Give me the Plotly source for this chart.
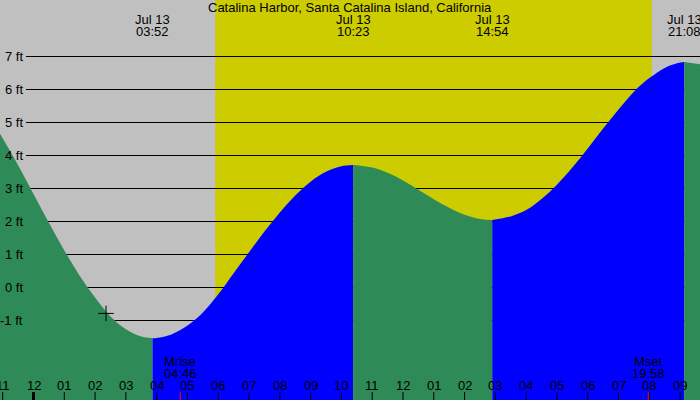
import plotly.graph_objects as go

# ---------------- data (hours after midnight, Jul 13; heights in ft) ----------------
title_text = "Catalina Harbor, Santa Catalina Island, California"

tide_hours = [-1.1, -0.5, 0, 0.5, 1, 1.5, 2, 2.5, 3, 3.5, 3.867,
              4, 4.5, 5, 5.5, 6, 6.5, 7, 7.5, 8, 8.5, 9, 9.5, 10, 10.383,
              11, 11.5, 12, 12.5, 13, 13.5, 14, 14.5, 14.9,
              15.5, 16, 16.5, 17, 17.5, 18, 18.5, 19, 19.5, 20, 20.5, 21, 21.133,
              21.7]
tide_ft = [4.66, 3.69, 2.82, 1.95, 1.11, 0.34, -0.32, -0.89, -1.28, -1.50, -1.55,
           -1.545, -1.43, -1.17, -0.77, -0.22, 0.42, 1.05, 1.68, 2.26, 2.77, 3.19, 3.49, 3.66, 3.70,
           3.62, 3.46, 3.23, 2.95, 2.66, 2.40, 2.19, 2.06, 2.03,
           2.14, 2.33, 2.67, 3.10, 3.62, 4.20, 4.80, 5.38, 5.92, 6.33, 6.64, 6.80, 6.82,
           6.74]

extreme_hours = [3.867, 10.383, 14.9, 21.133]
extreme_dates = ["Jul 13", "Jul 13", "Jul 13", "Jul 13"]
extreme_times = ["03:52", "10:23", "14:54", "21:08"]

sunrise_hour = 5.9
sunset_hour = 20.08

moon_hours = [4.767, 19.967]
moon_names = ["Mrise", "Mset"]
moon_times = ["04:46", "19:58"]

now_hour = [2.355]
now_ft = [-0.80]

level_ft = [-1, 0, 1, 2, 3, 4, 5, 6, 7]
level_labels = ["-1 ft", "0 ft", "1 ft", "2 ft", "3 ft", "4 ft", "5 ft", "6 ft", "7 ft"]

tick_hours = list(range(-1, 22))
tick_labels = ["11", "12", "01", "02", "03", "04", "05", "06", "07", "08", "09", "10",
               "11", "12", "01", "02", "03", "04", "05", "06", "07", "08", "09"]

# ---------------- style ----------------
NIGHT = "#c0c0c0"
DAY = "#cccc00"
FALL = "#2e8b57"
RISE = "#0000ff"
FONT = "Liberation Sans"
X_RANGE = [-1.088, 21.646]
Y_RANGE = [-3.424, 8.697]
W, H = 700, 400

fig = go.Figure()

# split the tide curve into rising / falling segments at the extremes
bounds = [tide_hours[0]] + extreme_hours + [tide_hours[-1]]
for i in range(len(bounds) - 1):
    a, b = bounds[i], bounds[i + 1]
    xs = [t for t in tide_hours if a <= t <= b]
    ys = [h for t, h in zip(tide_hours, tide_ft) if a <= t <= b]
    rising = ys[-1] > ys[0]
    fig.add_trace(go.Scatter(x=[xs[0], xs[-1]], y=[Y_RANGE[0] - 1] * 2, mode="lines",
                             line=dict(width=0), hoverinfo="skip", showlegend=False))
    fig.add_trace(go.Scatter(x=xs, y=ys, mode="lines", fill="tonexty",
                             fillcolor=RISE if rising else FALL,
                             line=dict(width=0, shape="spline", smoothing=1),
                             hoverinfo="skip", showlegend=False))

fig.add_trace(go.Scatter(x=now_hour, y=now_ft, mode="markers",
                         marker=dict(symbol="cross-thin", size=11,
                                     line=dict(width=1, color="black")),
                         hoverinfo="skip", showlegend=False))

shapes = [dict(type="rect", xref="x", yref="paper", x0=sunrise_hour, x1=sunset_hour,
               y0=0, y1=1, fillcolor=DAY, line=dict(width=0), layer="below")]
for v in level_ft:
    # half-pixel offset keeps the 1px rule crisp
    shapes.append(dict(type="line", xref="paper", yref="y", ysizemode="pixel", yanchor=v,
                       x0=26 / W, x1=1, y0=-0.5, y1=-0.5,
                       line=dict(color="black", width=1), layer="below"))
for t in tick_hours:
    shapes.append(dict(type="line", xref="x", yref="paper", x0=t, x1=t, y0=0, y1=8 / H,
                       line=dict(color="black", width=3 if t % 24 == 0 else 1)))
for t in moon_hours:
    shapes.append(dict(type="line", xref="x", yref="paper", x0=t, x1=t, y0=0, y1=8 / H,
                       line=dict(color="red", width=1)))

ann = []
fnt = dict(family=FONT, size=13, color="black")


def py(pix):
    return 1 - pix / H


ann.append(dict(text=title_text, xref="paper", yref="paper", x=0.5, y=py(7.5),
                showarrow=False, font=fnt, xanchor="center", yanchor="middle"))
for t, d, s in zip(extreme_hours, extreme_dates, extreme_times):
    ann.append(dict(text=d, xref="x", yref="paper", x=t, y=py(19.5), showarrow=False,
                    font=fnt, xanchor="center", yanchor="middle"))
    ann.append(dict(text=s, xref="x", yref="paper", x=t, y=py(31.5), showarrow=False,
                    font=fnt, xanchor="center", yanchor="middle"))
for t, n, s in zip(moon_hours, moon_names, moon_times):
    ann.append(dict(text=n, xref="x", yref="paper", x=t, y=py(361.5), showarrow=False,
                    font=fnt, xanchor="center", yanchor="middle"))
    ann.append(dict(text=s, xref="x", yref="paper", x=t, y=py(373), showarrow=False,
                    font=fnt, xanchor="center", yanchor="middle"))
for v, lab in zip(level_ft, level_labels):
    ann.append(dict(text=lab, xref="paper", yref="y", x=25 / W, y=v, showarrow=False,
                    font=fnt, xanchor="right", yanchor="middle"))
for t, lab in zip(tick_hours, tick_labels):
    ann.append(dict(text=lab, xref="x", yref="paper", x=t, y=py(385.5), showarrow=False,
                    font=fnt, xanchor="center", yanchor="middle"))

fig.update_layout(
    width=W, height=H, margin=dict(l=0, r=0, t=0, b=0, pad=0),
    paper_bgcolor=NIGHT, plot_bgcolor=NIGHT,
    xaxis=dict(range=X_RANGE, visible=False, fixedrange=True),
    yaxis=dict(range=Y_RANGE, visible=False, fixedrange=True),
    shapes=shapes, annotations=ann, showlegend=False, hovermode=False,
)

fig.write_html("out.html", config={"displayModeBar": False})
